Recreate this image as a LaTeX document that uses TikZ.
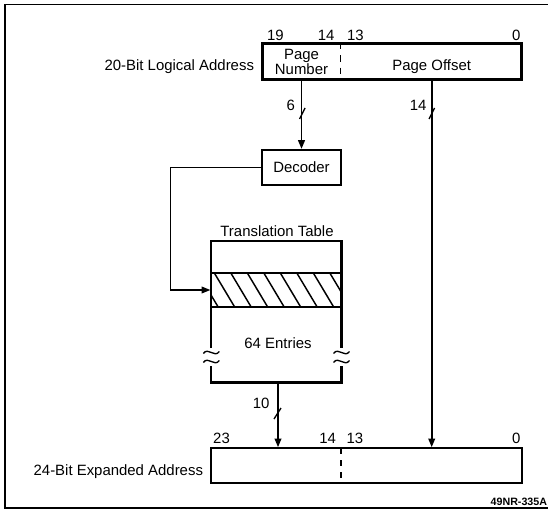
\documentclass[tikz,border=0pt]{standalone}
\usepackage{fontspec}
\setmainfont{Liberation Sans}
\usetikzlibrary{arrows.meta}

\tikzset{every picture/.style={line width=0.75pt}}
\tikzset{
  lbl/.style={inner sep=0pt, font=\fontsize{11.2}{11.25}\selectfont},
  regbox/.style={draw, line width=1.65pt, inner sep=0pt},
  bus/.style={line width=1.3pt, -{Triangle[length=6.5pt,width=5pt]}},
  route/.style={line width=0.9pt, -{Triangle[length=6.5pt,width=5pt]}},
  divider/.style={line width=1.2pt, dash pattern=on 4.5pt off 4.5pt},
  slash/.style={line width=1pt},
  brk/.style={line width=1pt},
}

\begin{document}
\begin{tikzpicture}[x=0.75pt,y=0.75pt,yscale=-1,xscale=1]
\useasboundingbox (0,0) rectangle (548,510);

%Frame
\draw [line width=1.1pt] (548,4.5) -- (5,4.5) -- (5,508) -- (548,508) ;

%Shape: 20-bit logical address
\node [regbox, minimum width=194.25pt, minimum height=27pt] (la) at (392,61.5) {};
\draw [divider] (340.5,43.5) -- (340.5,79.5) ;
\node [lbl, align=center] (pn) at (301.5,61.7) {Page\\Number};
\node [lbl, anchor=base] (po) at (431.7,70) {Page Offset};
% Text Node
\node [lbl, anchor=base east] (lalbl) at (254.5,70) {20-Bit Logical Address};
\node [lbl, anchor=base west] (la19) at (266.5,40.5) {19};
\node [lbl, anchor=base east] (la14) at (335,40.5) {14};
\node [lbl, anchor=base west] (la13) at (346.5,40.5) {13};
\node [lbl, anchor=base east] (la0) at (521,40.5) {0};

%Shape: Decoder
\node [regbox, lbl, draw, line width=1.65pt, minimum width=59.25pt, minimum height=26.25pt] (dec) at (301.5,167.5) {Decoder};

%Shape: Translation table
\node [minimum width=97.65pt, minimum height=106.1pt, inner sep=0pt] (tbl) at (276.4,311.75) {};
\begin{scope}
\clip (211.3,273.3) rectangle (341.5,306.7);
\foreach \hx in {181.5,198,...,340} {
  \draw [line width=1.1pt] (\hx,273.3) -- ++(20,33.4) ;
}
\end{scope}
\node [draw, line width=1.4pt, minimum width=97.65pt, minimum height=25.05pt, inner sep=0pt] (entry) at (276.4,290) {};
\draw [line width=1.65pt] (211.3,348) -- (211.3,241) -- (341.5,241) -- (341.5,348) ;
\draw [line width=1.65pt] (211.3,366) -- (211.3,382.5) -- (341.5,382.5) -- (341.5,366) ;
%Break marks
\foreach \bx in {211.3,341.5} {
  \foreach \by in {352.5,361.5} {
    \draw [brk] (\bx-8,\by+1) .. controls (\bx-3,\by-6) and (\bx+3,\by+6) .. (\bx+8,\by-1) ;
  }
}
% Text Node
\node [lbl, anchor=base] (ttl) at (277,236) {Translation Table};
\node [lbl, anchor=base] (ent) at (278,348.3) {64 Entries};

%Shape: 24-bit expanded address
\node [regbox, minimum width=233.25pt, minimum height=25.8pt] (ea) at (366.5,465.5) {};
\draw [divider] (341,448.3) -- (341,482.7) ;
% Text Node
\node [lbl, anchor=base east] (ealbl) at (203.5,475) {24-Bit Expanded Address};
\node [lbl, anchor=base west] (ea23) at (212.7,443) {23};
\node [lbl, anchor=base east] (ea14) at (336.5,443) {14};
\node [lbl, anchor=base west] (ea13) at (346,443) {13};
\node [lbl, anchor=base east] (ea0) at (521,443) {0};

%Connectors
\draw [bus] (dec.north |- la.south) -- (dec.north) ;
\draw [bus] (po |- la.south) -- (po |- ea.north) ;
\coordinate (bend) at (170.7,290) ;
\draw [route] (dec.west) -| (bend) -- (entry.west) ;
\draw [bus] (tbl.south -| ent.south) -- (ent.south |- ea.north) ;

%Bus width marks
\draw [slash] (299.5,119) -- (305,108) ;
\draw [slash] (429,119) -- (434.5,108) ;
\draw [slash] (274,419) -- (281,408) ;
\node [lbl, anchor=base east] (w6) at (295.5,110) {6};
\node [lbl, anchor=base east] (w14) at (427,110) {14};
\node [lbl, anchor=base east] (w10) at (270,408) {10};

% Text Node
\node [inner sep=0pt, anchor=base east, font=\fontsize{8}{9}\selectfont\bfseries] (fig) at (547.5,505) {49NR-335A};

\end{tikzpicture}
\end{document}
